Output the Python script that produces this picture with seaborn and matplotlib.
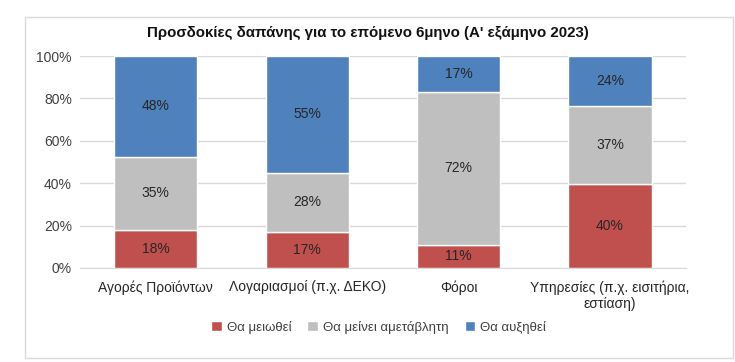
import pandas as pd
import matplotlib.pyplot as plt
import matplotlib.patches as mpatches
import seaborn as sns

# κατηγορίες και τιμές (%)
categories = ['Αγορές Προϊόντων', 'Λογαριασμοί (π.χ. ΔΕΚΟ)', 'Φόροι',
              'Υπηρεσίες (π.χ. εισιτήρια,\nεστίαση)']
decrease = [18, 17, 11, 40]
same = [35, 28, 72, 37]
increase = [48, 55, 17, 24]
series_names = ['Θα μειωθεί', 'Θα μείνει αμετάβλητη', 'Θα αυξηθεί']
colors = ['#C0504D', '#BFBFBF', '#4F81BD']

df = pd.DataFrame({'cat': categories, series_names[0]: decrease,
                   series_names[1]: same, series_names[2]: increase})
totals = df[series_names].sum(axis=1)

sns.set_style('white')
plt.rcParams['font.family'] = ['Liberation Sans', 'DejaVu Sans']

fig = plt.figure(figsize=(7.35, 3.62), dpi=100)
ax = fig.add_axes([0.109, 0.26, 0.824, 0.585])

# πλαίσιο γύρω από το γράφημα
fig.patches.append(mpatches.Rectangle((0.034, 0.012), 0.963, 0.94, transform=fig.transFigure,
                                      fill=False, edgecolor='#D9D9D9', linewidth=1))

bottom = pd.Series([0.0] * len(df))
for name, col in zip(series_names, colors):
    share = df[name] / totals * 100
    sns.barplot(x=df['cat'], y=share, bottom=bottom, color=col, width=0.55, saturation=1,
                edgecolor='white', linewidth=1, ax=ax, label=name, zorder=3)
    for i, (v, b, s) in enumerate(zip(df[name], bottom, share)):
        ax.text(i, b + s / 2, f'{v}%', ha='center', va='center', fontsize=10, color='#262626', zorder=4)
    bottom = bottom + share

ax.set_ylim(0, 100)
ax.set_xlim(-0.5, 3.5)
ax.set_yticks(range(0, 101, 20))
ax.set_yticklabels([f'{t}%' for t in range(0, 101, 20)], fontsize=10, color='#404040')
ax.tick_params(axis='x', labelsize=10, colors='#262626', length=0, pad=9)
ax.tick_params(axis='y', length=0, pad=6)
ax.set_xlabel('')
ax.set_ylabel('')
ax.grid(axis='y', color='#D9D9D9', linewidth=1, zorder=0)
sns.despine(ax=ax, left=True)
ax.spines['bottom'].set_color('#D9D9D9')

ax.set_title('Προσδοκίες δαπάνης για το επόμενο 6μηνο (Α\' εξάμηνο 2023)',
             fontsize=10.8, fontweight='bold', pad=14, color='#111111', x=0.475)

ax.legend(loc='center', bbox_to_anchor=(0.493, -0.28), ncol=3, frameon=False, fontsize=9.5,
          handlelength=0.8, handleheight=0.8, handletextpad=0.4, columnspacing=1.2,
          labelcolor='#404040')

fig.savefig('out.png', dpi=100)
